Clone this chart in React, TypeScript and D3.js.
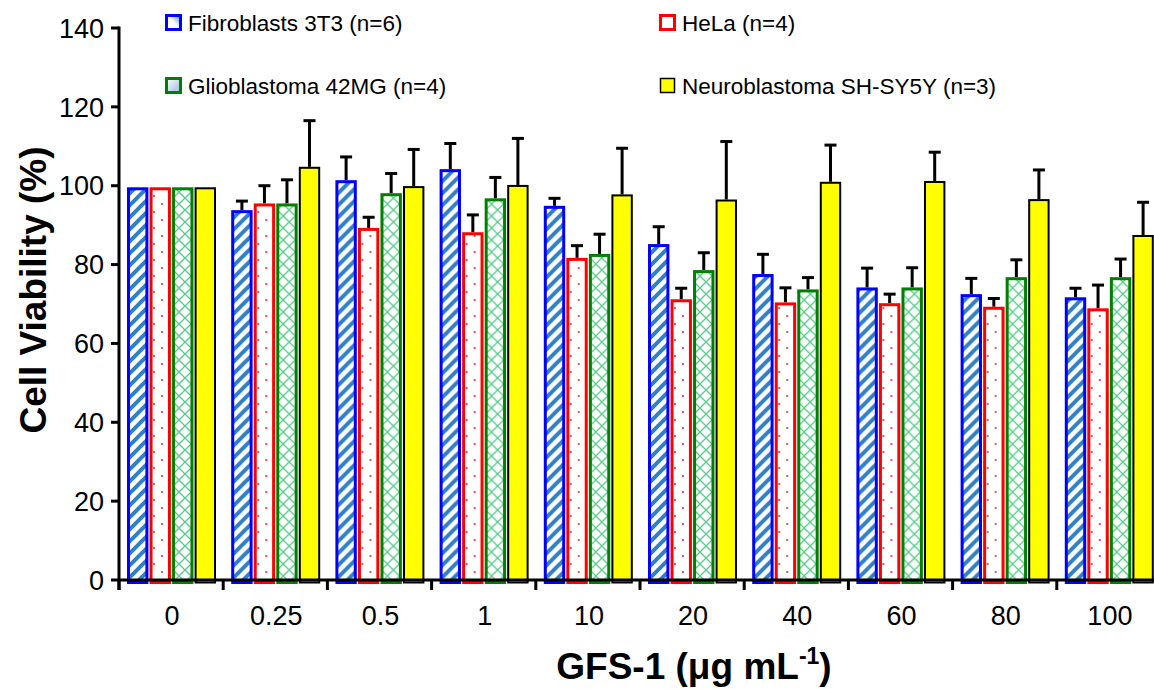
import React from "react";
import * as d3 from "d3";

const categories = ["0", "0.25", "0.5", "1", "10", "20", "40", "60", "80", "100"];
const seriesNames = [
  "Fibroblasts 3T3 (n=6)",
  "HeLa (n=4)",
  "Glioblastoma 42MG (n=4)",
  "Neuroblastoma SH-SY5Y (n=3)",
];
const fibroValues = [99.6, 93.8, 101.4, 104.2, 94.9, 85.2, 77.6, 74.2, 72.5, 71.7];
const fibroErrors = [0, 2.3, 5.9, 6.5, 1.9, 4.4, 5.0, 4.9, 4.0, 2.3];
const helaValues = [99.6, 95.5, 89.3, 88.2, 81.7, 71.2, 70.4, 70.2, 69.3, 68.9];
const helaErrors = [0, 4.5, 2.7, 4.4, 3.1, 2.8, 3.7, 2.3, 2.1, 5.9];
const gliolValues = [99.6, 95.5, 98.1, 96.8, 82.7, 78.6, 73.7, 74.2, 76.8, 76.8];
const gliolErrors = [0, 6.0, 5.0, 5.3, 5.0, 4.4, 3.0, 5.0, 4.4, 4.6];
const neuroValues = [99.6, 104.8, 99.9, 100.2, 97.8, 96.5, 101.0, 101.2, 96.6, 87.5];
const neuroErrors = [0, 11.7, 9.3, 11.8, 11.7, 14.7, 9.3, 7.3, 7.4, 8.3];
const yTicks = [0, 20, 40, 60, 80, 100, 120, 140];

const W = 1154;
const H = 689;
const FONT = "Arial, 'Liberation Sans', Helvetica, sans-serif";

export default function App() {
  const series = [
    { name: seriesNames[0], values: fibroValues, errors: fibroErrors, stroke: "#0000ff", fill: "url(#pStripe)", sw: 3, swatch: "url(#gBlue)" },
    { name: seriesNames[1], values: helaValues, errors: helaErrors, stroke: "#ff0000", fill: "url(#pDots)", sw: 3, swatch: "#ffffff" },
    { name: seriesNames[2], values: gliolValues, errors: gliolErrors, stroke: "#008000", fill: "url(#pCross)", sw: 3, swatch: "url(#gGreen)" },
    { name: seriesNames[3], values: neuroValues, errors: neuroErrors, stroke: "#000000", fill: "#ffff00", sw: 2, swatch: "#ffff00" },
  ];

  const x0 = d3.scaleBand<string>().domain(categories).range([119, 119 + 10 * 104.2]).padding(0);
  const x1 = d3.scaleBand<number>().domain([0, 1, 2, 3]).range([8, 97]).paddingInner(0.05).paddingOuter(0);
  const y = d3.scaleLinear().domain([0, 140]).range([580, 28]);
  const bw = x1.bandwidth();
  const y0 = y(0);

  const legendPos = [
    { x: 165, y: 14 },
    { x: 659, y: 14 },
    { x: 165, y: 77 },
    { x: 659, y: 77 },
  ];

  return (
    <svg width={W} height={H} style={{ position: "absolute", left: 0, top: 0, background: "#fff" }} fontFamily={FONT}>
      <defs>
        <pattern id="pStripe" patternUnits="userSpaceOnUse" width={12} height={12}>
          <rect width={12} height={12} fill="#ffffff" />
          <path d="M-3,3 L3,-3 M0,12 L12,0 M9,15 L15,9" stroke="#2f80c4" strokeWidth={4} />
        </pattern>
        <pattern id="pDots" patternUnits="userSpaceOnUse" width={16} height={16}>
          <rect width={16} height={16} fill="#ffffff" />
          <rect x={2} y={3} width={2} height={2} fill="#ff5050" />
          <rect x={10} y={11} width={2} height={2} fill="#ff5050" />
        </pattern>
        <pattern id="pCross" patternUnits="userSpaceOnUse" width={12} height={12}>
          <rect width={12} height={12} fill="#ffffff" />
          <path d="M0,0 L12,12 M12,0 L0,12" stroke="#55cc88" strokeWidth={1.3} />
        </pattern>
        <linearGradient id="gBlue" x1="0" y1="1" x2="1" y2="0">
          <stop offset="0" stopColor="#ffffff" />
          <stop offset="0.5" stopColor="#ffffff" />
          <stop offset="1" stopColor="#4a8fd0" />
        </linearGradient>
        <linearGradient id="gGreen" x1="0" y1="0" x2="1" y2="1">
          <stop offset="0" stopColor="#ffffff" />
          <stop offset="1" stopColor="#9fb8e0" />
        </linearGradient>
      </defs>

      {/* bars */}
      {categories.map((c, ci) => (
        <g key={c} transform={`translate(${x0(c)},0)`}>
          {series.map((s, si) => {
            const v = s.values[ci];
            const e = s.errors[ci];
            const bx = x1(si) as number;
            const top = y(v);
            const cx = bx + bw / 2;
            return (
              <g key={si}>
                {e > 0 && (
                  <g stroke="#000" strokeWidth={3}>
                    <line x1={cx} x2={cx} y1={top} y2={y(v + e)} />
                    <line x1={cx - 6} x2={cx + 6} y1={y(v + e)} y2={y(v + e)} />
                  </g>
                )}
                <rect
                  x={bx + s.sw / 2}
                  y={top + s.sw / 2}
                  width={bw - s.sw}
                  height={y0 + 2.5 - top - s.sw / 2}
                  fill={s.fill}
                  stroke={s.stroke}
                  strokeWidth={s.sw}
                />
              </g>
            );
          })}
        </g>
      ))}

      {/* y axis */}
      <line x1={119} x2={119} y1={y(140) - 1.5} y2={590} stroke="#000" strokeWidth={3} />
      {yTicks.map((t) => (
        <g key={t}>
          <line x1={111} x2={119} y1={y(t)} y2={y(t)} stroke="#000" strokeWidth={3} />
          <text x={104} y={y(t)} dy="0.36em" textAnchor="end" fontSize={27} fill="#000">
            {t}
          </text>
        </g>
      ))}

      {/* x axis */}
      <line x1={117.5} x2={W} y1={y0} y2={y0} stroke="#000" strokeWidth={3} />
      {categories.map((c) => (
        <g key={c}>
          <line x1={x0(c)} x2={x0(c)} y1={y0} y2={590} stroke="#000" strokeWidth={3} />
          <text x={(x0(c) as number) + x0.bandwidth() / 2 + 1} y={625} textAnchor="middle" fontSize={27} fill="#000">
            {c}
          </text>
        </g>
      ))}

      {/* axis titles */}
      <text x={694} y={679} textAnchor="middle" fontSize={37} fontWeight="bold" fill="#000">
        GFS-1 (μg mL<tspan fontSize={23} dy={-15}>-1</tspan>
        <tspan dy={15}>)</tspan>
      </text>
      <text transform="translate(46,290) rotate(-90)" textAnchor="middle" fontSize={37} fontWeight="bold" fill="#000">
        Cell Viability (%)
      </text>

      {/* legend */}
      {series.map((s, i) => (
        <g key={s.name} transform={`translate(${legendPos[i].x},${legendPos[i].y})`}>
          <rect x={1.5} y={1.5} width={14} height={14} fill={s.swatch} stroke={s.stroke} strokeWidth={s.sw === 3 ? 3 : 1.5} />
          <text x={23} y={17} fontSize={22.5} fill="#000">
            {s.name}
          </text>
        </g>
      ))}
    </svg>
  );
}
